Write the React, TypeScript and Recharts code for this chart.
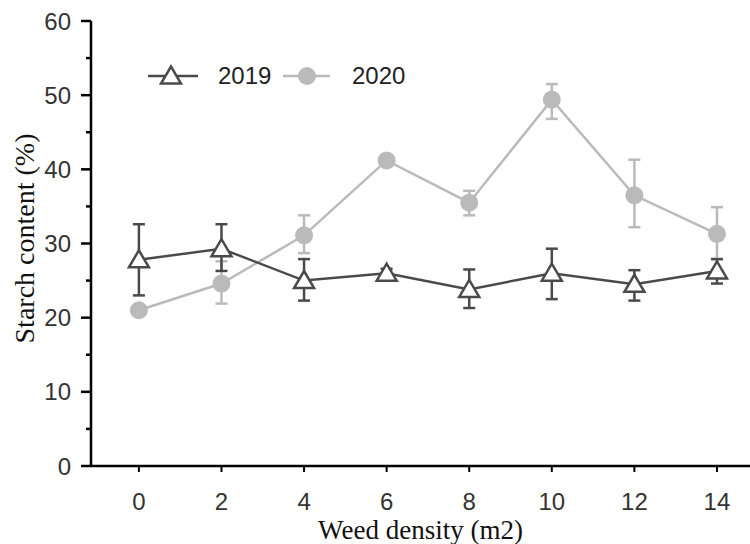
import { LineChart, Line, XAxis, YAxis, ErrorBar, Legend } from 'recharts';

const densities = [0, 2, 4, 6, 8, 10, 12, 14];
const yTicks = [0, 5, 10, 15, 20, 25, 30, 35, 40, 45, 50, 55, 60];

const mean2019 = [27.8, 29.3, 25.0, 26.0, 23.8, 26.0, 24.5, 26.3];
const errDown2019 = [4.8, 3.0, 2.7, 0.6, 2.5, 3.5, 2.2, 1.7];
const errUp2019 = [4.8, 3.3, 2.9, 0.6, 2.7, 3.3, 1.9, 1.6];

const mean2020 = [21.0, 24.6, 31.1, 41.2, 35.5, 49.4, 36.5, 31.3];
const errDown2020 = [0.5, 2.7, 2.4, 0.5, 1.7, 2.6, 4.3, 3.4];
const errUp2020 = [0.5, 3.0, 2.7, 0.5, 1.6, 2.1, 4.8, 3.6];

const data = densities.map((d, i) => ({
  density: d,
  y2019: mean2019[i],
  e2019: [errDown2019[i], errUp2019[i]],
  y2020: mean2020[i],
  e2020: [errDown2020[i], errUp2020[i]],
}));

const dark = '#4a4a4a';
const light = '#bababa';
const sans = '"Liberation Sans", Arial, sans-serif';
const serif = '"Liberation Serif", "Times New Roman", serif';

const TriangleDot = (props: any) => {
  const { cx, cy, index } = props;
  if (cx == null || cy == null) return null;
  const w = 10;
  const h = 15;
  const pts = `${cx - w},${cy + h / 2} ${cx + w},${cy + h / 2} ${cx},${cy - h / 2 - 2}`;
  return (
    <polygon
      key={`tri-${index}`}
      points={pts}
      fill="#fff"
      stroke={dark}
      strokeWidth={2.5}
      strokeLinejoin="miter"
    />
  );
};

const CircleDot = (props: any) => {
  const { cx, cy, index } = props;
  if (cx == null || cy == null) return null;
  return <circle key={`c-${index}`} cx={cx} cy={cy} r={9} fill={light} />;
};

const YTick = (props: any) => {
  const { x, y, payload } = props;
  const major = payload.value % 10 === 0;
  return (
    <g>
      <line x1={x - (major ? 10 : 5)} x2={x} y1={y} y2={y} stroke="#000" strokeWidth={2.5} />
      {major && (
        <text x={x - 20} y={y} dy={8.5} textAnchor="end" fontSize={24} fill="#333" fontFamily={sans}>
          {payload.value}
        </text>
      )}
    </g>
  );
};

const renderLegend = () => (
  <svg width={300} height={34}>
    <line x1={8} x2={58} y1={16} y2={16} stroke={dark} strokeWidth={2.5} />
    <TriangleDot cx={31} cy={16} index={0} />
    <text x={78} y={24} fontSize={24} fill="#222" fontFamily={sans}>2019</text>
    <line x1={143} x2={190} y1={16} y2={16} stroke={light} strokeWidth={2.5} />
    <CircleDot cx={167} cy={16} index={1} />
    <text x={212} y={24} fontSize={24} fill="#222" fontFamily={sans}>2020</text>
  </svg>
);

export default function App() {
  return (
    <div style={{ position: 'absolute', left: 0, top: 0, width: 750, height: 544, background: '#fff' }}>
      <LineChart width={750} height={544} data={data} margin={{ top: 21, right: 0, bottom: 0, left: 0 }}>
        <XAxis
          dataKey="density"
          type="number"
          domain={[-1.16, 14.8]}
          ticks={densities}
          allowDataOverflow
          height={78}
          axisLine={{ stroke: '#000', strokeWidth: 2.5 }}
          tickLine={{ stroke: '#000', strokeWidth: 2 }}
          tickSize={6}
          tickMargin={21}
          tick={{ fontSize: 24, fill: '#333', fontFamily: sans }}
          label={{ value: 'Weed density (m2)', position: 'insideBottom', offset: 5, fontSize: 27, fill: '#111', fontFamily: serif }}
        />
        <YAxis
          type="number"
          domain={[0, 60]}
          ticks={yTicks}
          interval={0}
          width={91}
          axisLine={{ stroke: '#000', strokeWidth: 2.5 }}
          tickLine={false}
          tickSize={0}
          tickMargin={0}
          tick={<YTick />}
          label={{ value: 'Starch content (%)', angle: -90, position: 'insideLeft', offset: 24, dy: -5, fontSize: 28, fill: '#111', fontFamily: serif, style: { textAnchor: 'middle' } }}
        />
        <Legend
          content={renderLegend}
          layout="horizontal"
          verticalAlign="middle"
          wrapperStyle={{ position: 'absolute', left: 140, top: 60, width: 300 }}
        />
        <Line
          dataKey="y2020"
          stroke={light}
          strokeWidth={2.5}
          dot={CircleDot}
          activeDot={false}
          isAnimationActive={false}
          legendType="none"
        >
          <ErrorBar dataKey="e2020" width={6} stroke={light} strokeWidth={2.5} direction="y" />
        </Line>
        <Line
          dataKey="y2019"
          stroke={dark}
          strokeWidth={2.5}
          dot={TriangleDot}
          activeDot={false}
          isAnimationActive={false}
          legendType="none"
        >
          <ErrorBar dataKey="e2019" width={6} stroke={dark} strokeWidth={2.5} direction="y" />
        </Line>
      </LineChart>
    </div>
  );
}
